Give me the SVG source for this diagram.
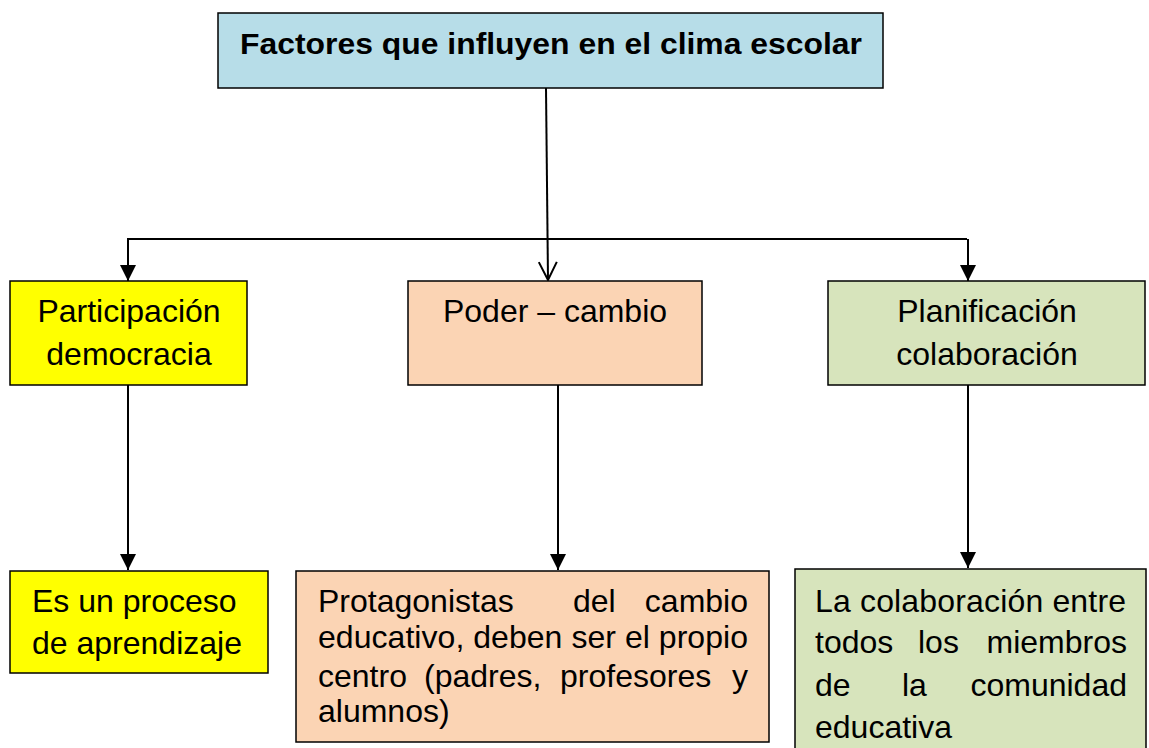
<svg xmlns="http://www.w3.org/2000/svg" width="1149" height="748" viewBox="0 0 1149 748">
<style>
.box{stroke:#000;stroke-width:1.5}
.t{font-family:"Liberation Sans",Arial,sans-serif;font-size:32px;fill:#000}
.e{text-anchor:end}
.title{font-family:"Liberation Sans",Arial,sans-serif;font-size:30px;font-weight:bold;fill:#000}
.ln{stroke:#000;stroke-width:2;fill:none}
</style>
<defs>
<marker id="fill" markerWidth="16" markerHeight="16" refX="16" refY="8" orient="auto" markerUnits="userSpaceOnUse" viewBox="0 0 16 16">
<path d="M0,0 L16,8 L0,16 Z" fill="#000"/>
</marker>
<marker id="open" markerWidth="22" markerHeight="22" refX="20" refY="11" orient="auto" markerUnits="userSpaceOnUse" viewBox="0 0 22 22">
<path d="M2,2 L20,11 L2,20" fill="none" stroke="#000" stroke-width="2"/>
</marker>
</defs>
<rect width="1149" height="748" fill="#fff"/>
<g id="connectors">
<line class="ln" x1="546" y1="88" x2="548" y2="280" marker-end="url(#open)"/>
<polyline class="ln" points="128,262 128,239 967,239"/>
<line class="ln" x1="128" y1="262" x2="128" y2="281" marker-end="url(#fill)"/>
<line class="ln" x1="968" y1="239" x2="968" y2="281" marker-end="url(#fill)"/>
<line class="ln" x1="128" y1="385" x2="128" y2="570" marker-end="url(#fill)"/>
<line class="ln" x1="558" y1="380" x2="558" y2="570" marker-end="url(#fill)"/>
<line class="ln" x1="968" y1="380" x2="968" y2="568" marker-end="url(#fill)"/>
</g>
<g id="title">
<rect class="box" x="218" y="13" width="665" height="75" fill="#B7DDE8"/>
<text class="title" x="240" y="54" textLength="622" lengthAdjust="spacingAndGlyphs">Factores que influyen en el clima escolar</text>
</g>
<g id="participacion">
<rect class="box" x="10" y="281" width="237" height="104" fill="#FFFF00"/>
<text class="t" x="129" y="322" text-anchor="middle">Participación</text>
<text class="t" x="129" y="365" text-anchor="middle">democracia</text>
</g>
<g id="poder">
<rect class="box" x="408" y="281" width="294" height="104" fill="#FBD4B4"/>
<text class="t" x="555" y="322" text-anchor="middle">Poder – cambio</text>
</g>
<g id="planificacion">
<rect class="box" x="828" y="281" width="317" height="104" fill="#D7E4BC"/>
<text class="t" x="987" y="322" text-anchor="middle">Planificación</text>
<text class="t" x="987" y="365" text-anchor="middle">colaboración</text>
</g>
<g id="proceso">
<rect class="box" x="10" y="571" width="258" height="102" fill="#FFFF00"/>
<text class="t" x="32" y="612">Es un proceso</text>
<text class="t" x="32" y="654">de aprendizaje</text>
</g>
<g id="protagonistas">
<rect class="box" x="296" y="571" width="473" height="171" fill="#FBD4B4"/>
<text class="t" x="318" y="612">Protagonistas</text>
<text class="t" x="573" y="612">del</text>
<text class="t e" x="748" y="612">cambio</text>
<text class="t" x="318" y="648" textLength="430" lengthAdjust="spacing">educativo, deben ser el propio</text>
<text class="t" x="318" y="687">centro</text>
<text class="t" x="424" y="687">(padres,</text>
<text class="t" x="560" y="687">profesores</text>
<text class="t e" x="748" y="687">y</text>
<text class="t" x="318" y="722">alumnos)</text>
</g>
<g id="colaboracion">
<rect class="box" x="795" y="569" width="351" height="185" fill="#D7E4BC"/>
<text class="t" x="815" y="612" textLength="311" lengthAdjust="spacing">La colaboración entre</text>
<text class="t" x="815" y="653">todos</text>
<text class="t" x="918" y="653">los</text>
<text class="t e" x="1127" y="653">miembros</text>
<text class="t" x="815" y="696">de</text>
<text class="t" x="902" y="696">la</text>
<text class="t e" x="1127" y="696">comunidad</text>
<text class="t" x="815" y="738">educativa</text>
</g>
</svg>
